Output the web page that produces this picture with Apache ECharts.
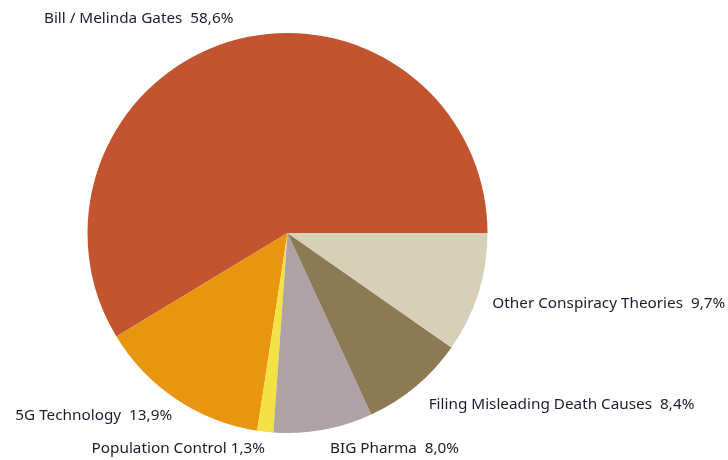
<!DOCTYPE html>
<html>
<head>
<meta charset="utf-8">
<script src="https://cdn.jsdelivr.net/npm/echarts@6/dist/echarts.min.js"></script>
<style>html,body{margin:0;padding:0;background:#fff;}#c{width:728px;height:460px;}</style>
</head>
<body>
<div id="c"></div>
<script>
const categories = ["Bill / Melinda Gates", "5G Technology", "Population Control", "BIG Pharma", "Filing Misleading Death Causes", "Other Conspiracy Theories"];
const values = [58.6, 13.9, 1.3, 8.0, 8.4, 9.7];
const valueLabels = ["58,6%", "13,9%", "1,3%", "8,0%", "8,4%", "9,7%"];
const separators = ["  ", "  ", " ", "  ", "  ", "  "];
const colors = ["#C35430", "#E8950F", "#F3E245", "#AFA2A6", "#8B7A53", "#D8CFB8"];
const labelNudges = [[5, -2], [7, 0], [2, -3], [3, -1], [0, 3], [-5, 5]];

const chart = echarts.init(document.getElementById('c'), null, {renderer: 'canvas'});
chart.setOption({
  animation: false,
  series: [{
    type: 'pie',
    center: [287.5, 233],
    radius: 200,
    startAngle: 0,
    clockwise: false,
    avoidLabelOverlap: false,
    data: categories.map((n, i) => ({
      name: n, value: values[i],
      itemStyle: {color: colors[i]},
      label: {formatter: n + separators[i] + valueLabels[i]}
    })),
    label: {
      show: true,
      position: 'outside',
      fontFamily: 'Noto Sans',
      fontSize: 15.3,
      color: '#1c1c30',
      distanceToLabelLine: 0
    },
    labelLine: {show: false, length: 20, length2: 0},
    labelLayout: function (p) {
      const d = labelNudges[p.dataIndex];
      return {dx: d[0], dy: d[1]};
    },
    emphasis: {disabled: true}
  }]
});
</script>
</body>
</html>
